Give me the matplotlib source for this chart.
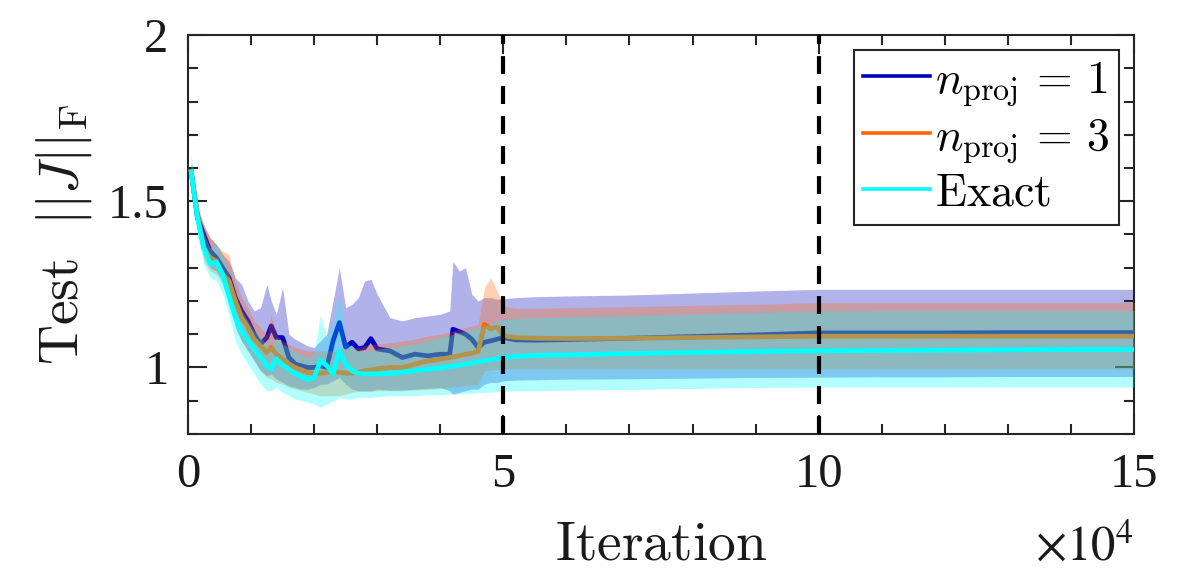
import matplotlib
matplotlib.use("Agg")
import matplotlib.pyplot as plt
from matplotlib.ticker import MultipleLocator, FixedLocator
from matplotlib.lines import Line2D

# ---------------- data (iterations in units of 1e4) ----------------
iters = [0.05, 0.15, 0.25, 0.35, 0.45, 0.55, 0.65, 0.75, 0.85, 0.95,
         1.05, 1.15, 1.25, 1.32, 1.4, 1.5, 1.6, 1.7, 1.8, 1.9,
         2.0, 2.1, 2.2, 2.3, 2.4, 2.5, 2.6, 2.7, 2.8, 2.9,
         3.0, 3.2, 3.4, 3.6, 3.8, 4.0, 4.15, 4.2, 4.3, 4.4,
         4.5, 4.6, 4.7, 4.8, 4.9, 5.0, 5.2, 5.5, 6, 7,
         8, 9, 10, 11, 12, 13, 14, 15]

# n_proj = 1
b_mean = [1.59, 1.45, 1.40, 1.35, 1.33, 1.30, 1.27, 1.21, 1.17, 1.14,
          1.10, 1.07, 1.09, 1.125, 1.09, 1.09, 1.03, 1.01, 1.005, 1.0,
          1.0, 1.005, 1.0, 1.08, 1.135, 1.061, 1.076, 1.056, 1.06, 1.087,
          1.056, 1.05, 1.03, 1.04, 1.035, 1.04, 1.04, 1.115, 1.108, 1.10,
          1.085, 1.06, 1.076, 1.08, 1.085, 1.09, 1.083, 1.082, 1.084, 1.088,
          1.093, 1.098, 1.104, 1.104, 1.104, 1.105, 1.105, 1.105]
b_hi = [1.62, 1.48, 1.43, 1.39, 1.37, 1.34, 1.32, 1.27, 1.25, 1.20,
        1.17, 1.18, 1.25, 1.20, 1.16, 1.24, 1.10, 1.085, 1.075, 1.065,
        1.06, 1.08, 1.10, 1.20, 1.30, 1.18, 1.19, 1.21, 1.26, 1.265,
        1.22, 1.15, 1.14, 1.15, 1.155, 1.16, 1.17, 1.32, 1.29, 1.30,
        1.22, 1.20, 1.21, 1.21, 1.205, 1.207, 1.21, 1.213, 1.215, 1.218,
        1.224, 1.23, 1.235, 1.235, 1.235, 1.235, 1.235, 1.235]
b_lo = [1.56, 1.42, 1.34, 1.30, 1.29, 1.26, 1.20, 1.12, 1.08, 1.05,
        1.02, 0.99, 0.975, 0.98, 0.965, 0.955, 0.945, 0.94, 0.935, 0.935,
        0.94, 0.95, 0.95, 0.96, 0.97, 0.95, 0.935, 0.93, 0.93, 0.93,
        0.935, 0.932, 0.932, 0.935, 0.937, 0.94, 0.93, 0.92, 0.925, 0.93,
        0.935, 0.935, 0.95, 0.955, 0.955, 0.96, 0.962, 0.963, 0.965, 0.966,
        0.968, 0.97, 0.971, 0.972, 0.972, 0.973, 0.973, 0.973]

# n_proj = 3
o_mean = [1.59, 1.46, 1.36, 1.33, 1.32, 1.28, 1.26, 1.20, 1.15, 1.12,
          1.085, 1.065, 1.045, 1.06, 1.04, 1.025, 1.01, 1.0, 0.993, 0.985,
          0.983, 0.983, 0.985, 0.988, 0.985, 0.983, 0.983, 0.985, 0.99, 0.993,
          0.996, 1.0, 1.0, 1.01, 1.02, 1.025, 1.03, 1.032, 1.035, 1.04,
          1.043, 1.048, 1.13, 1.116, 1.122, 1.095, 1.09, 1.088, 1.087, 1.088,
          1.09, 1.092, 1.094, 1.094, 1.094, 1.094, 1.094, 1.094]
o_hi = [1.62, 1.49, 1.42, 1.39, 1.37, 1.35, 1.34, 1.26, 1.21, 1.18,
        1.14, 1.12, 1.10, 1.16, 1.10, 1.08, 1.07, 1.06, 1.055, 1.05,
        1.05, 1.05, 1.05, 1.05, 1.055, 1.06, 1.06, 1.06, 1.065, 1.07,
        1.07, 1.075, 1.08, 1.085, 1.095, 1.10, 1.105, 1.11, 1.115, 1.12,
        1.125, 1.13, 1.24, 1.27, 1.23, 1.185, 1.178, 1.178, 1.18, 1.183,
        1.187, 1.19, 1.195, 1.195, 1.195, 1.195, 1.195, 1.195]
o_lo = [1.56, 1.43, 1.32, 1.29, 1.28, 1.25, 1.20, 1.13, 1.08, 1.05,
        1.02, 0.99, 0.97, 0.965, 0.955, 0.95, 0.94, 0.935, 0.93, 0.925,
        0.92, 0.915, 0.915, 0.915, 0.915, 0.92, 0.925, 0.928, 0.928, 0.928,
        0.93, 0.93, 0.93, 0.932, 0.934, 0.936, 0.94, 0.942, 0.944, 0.945,
        0.947, 0.95, 0.99, 0.993, 0.995, 0.996, 0.996, 0.996, 0.996, 0.996,
        0.996, 0.996, 0.996, 0.996, 0.996, 0.996, 0.996, 0.995]

# Exact
c_mean = [1.588, 1.45, 1.36, 1.312, 1.317, 1.28, 1.215, 1.15, 1.108, 1.083,
          1.055, 1.03, 1.005, 0.995, 1.026, 1.008, 0.995, 0.98, 0.972, 0.963,
          0.97, 1.021, 1.006, 0.98, 1.05, 1.01, 0.99, 0.982, 0.981, 0.981,
          0.981, 0.982, 0.986, 0.99, 0.995, 0.998, 1.003, 1.004, 1.007, 1.01,
          1.013, 1.017, 1.02, 1.023, 1.026, 1.03, 1.033, 1.036, 1.038, 1.042,
          1.045, 1.048, 1.05, 1.051, 1.052, 1.053, 1.054, 1.054]
c_hi = [1.64, 1.48, 1.40, 1.36, 1.37, 1.33, 1.28, 1.22, 1.17, 1.14,
        1.11, 1.09, 1.07, 1.06, 1.09, 1.07, 1.06, 1.045, 1.035, 1.03,
        1.04, 1.16, 1.09, 1.13, 1.22, 1.08, 1.06, 1.05, 1.05, 1.05,
        1.055, 1.06, 1.065, 1.07, 1.08, 1.09, 1.095, 1.10, 1.105, 1.11,
        1.115, 1.12, 1.125, 1.13, 1.14, 1.144, 1.147, 1.15, 1.152, 1.155,
        1.16, 1.165, 1.17, 1.171, 1.171, 1.171, 1.171, 1.171]
c_lo = [1.55, 1.40, 1.31, 1.27, 1.26, 1.22, 1.16, 1.08, 1.04, 1.01,
        0.98, 0.95, 0.93, 0.93, 0.94, 0.925, 0.915, 0.905, 0.90, 0.895,
        0.89, 0.88, 0.89, 0.90, 0.91, 0.905, 0.905, 0.91, 0.91, 0.91,
        0.912, 0.915, 0.915, 0.915, 0.918, 0.918, 0.92, 0.92, 0.921, 0.922,
        0.923, 0.924, 0.925, 0.926, 0.927, 0.929, 0.93, 0.93, 0.932, 0.934,
        0.937, 0.94, 0.941, 0.941, 0.941, 0.941, 0.941, 0.941]

x_ticks = [0, 5, 10, 15]
x_tick_labels = ["0", "5", "10", "15"]
y_ticks = [1, 1.5, 2]
y_tick_labels = ["1", "1.5", "2"]
vlines = [5, 10]

series = [
    (b_mean, b_lo, b_hi, "#0000bf", r"$n_{\mathrm{proj}}\,=\,1$"),
    (o_mean, o_lo, o_hi, "#ff6600", r"$n_{\mathrm{proj}}\,=\,3$"),
    (c_mean, c_lo, c_hi, "#00ffff", r"$\mathrm{Exact}$"),
]

# ---------------- plotting ----------------
plt.rcParams["font.family"] = ["Liberation Serif", "DejaVu Serif"]
plt.rcParams["mathtext.fontset"] = "cm"
axc = "#262626"
txc = "#1a1a1a"

fig = plt.figure(figsize=(11.81, 5.72), dpi=100)
ax = fig.add_axes([0.1592, 0.2413, 0.8010, 0.6975])

handles = []
z = 1
for mean, lo, hi, col, lab in series:
    ax.fill_between(iters, lo, hi, color=col, alpha=0.3, lw=0, zorder=z)
    ax.plot(iters, mean, color=col, lw=3.4, zorder=z + 1)
    handles.append(Line2D([], [], color=col, lw=2.6, label=lab))
    z += 2

for v in vlines:
    ax.axvline(v, color="k", lw=3.0, dashes=(4.3, 2.9), zorder=z)

ax.set_xlim(0, 15)
ax.set_ylim(0.8, 2)
ax.xaxis.set_major_locator(FixedLocator(x_ticks))
ax.set_xticklabels(x_tick_labels)
ax.xaxis.set_minor_locator(MultipleLocator(1))
ax.yaxis.set_major_locator(FixedLocator(y_ticks))
ax.set_yticklabels(y_tick_labels)
ax.yaxis.set_minor_locator(MultipleLocator(0.1))

ax.tick_params(which="both", direction="in", top=True, right=True,
               color=axc, width=1.5, labelcolor=txc)
ax.tick_params(which="major", length=14, labelsize=35)
ax.tick_params(axis="x", which="major", pad=14)
ax.tick_params(axis="y", which="major", pad=14)
ax.tick_params(which="minor", length=7)
for s in ax.spines.values():
    s.set_color(axc)
    s.set_linewidth(1.5)

ax.set_xlabel(r"$\mathrm{Iteration}$", fontsize=40, labelpad=16, color=txc)
ax.set_ylabel(r"$\mathrm{Test}\ \ ||J||_{\mathrm{F}}$", fontsize=40, labelpad=10,
              color=txc)

fig.text(0.9602, 0.002, r"$\times10^{4}$", ha="right", va="bottom",
         fontsize=35, math_fontfamily="stix", color=txc)

leg = ax.legend(handles=handles, loc="upper right", fontsize=33,
                handlelength=1.45, handletextpad=0.12, borderaxespad=0.33,
                labelspacing=0.18, borderpad=0.2, fancybox=False, framealpha=1)
leg.set_zorder(20)
leg.get_frame().set_edgecolor(axc)
leg.get_frame().set_linewidth(1.5)

fig.savefig("out.png", dpi=100)
